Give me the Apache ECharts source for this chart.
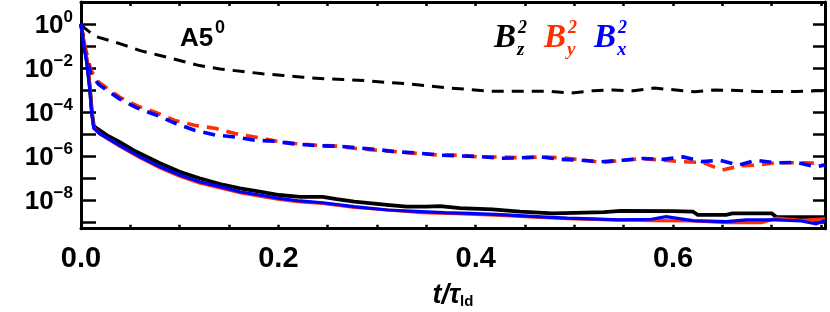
<!DOCTYPE html>
<html><head><meta charset="utf-8">
<script src="https://cdn.jsdelivr.net/npm/echarts@6/dist/echarts.min.js"></script>
<style>html,body{margin:0;padding:0;background:#fff}#c{width:830px;height:312px}</style>
</head><body><div id="c"></div>
<script>
// ---- data ----
const tBzDash = [0.000,0.014,0.040,0.060,0.080,0.100,0.120,0.141,0.164,0.184,0.205,0.225,0.247,0.265,0.289,0.310,0.330,0.350,0.372,0.392,0.414,0.434,0.455,0.475,0.497,0.519,0.539,0.560,0.581,0.603,0.622,0.642,0.665,0.685,0.705,0.725,0.745,0.754];
const bzDash = [0.89,0.28,0.126,0.0617,0.0372,0.0219,0.0129,0.00912,0.00692,0.0055,0.00457,0.0038,0.00324,0.00302,0.00269,0.00219,0.00195,0.00158,0.00126,0.00107,0.000891,0.000871,0.000871,0.000871,0.000724,0.000933,0.001,0.000933,0.00123,0.001,0.000832,0.001,0.000955,0.000851,0.000851,0.000851,0.000933,0.000933];

const tByDash = [0.000,0.004,0.010,0.018,0.039,0.057,0.077,0.095,0.115,0.137,0.156,0.176,0.196,0.217,0.239,0.260,0.279,0.299,0.321,0.341,0.364,0.384,0.404,0.426,0.446,0.466,0.487,0.507,0.527,0.549,0.569,0.590,0.610,0.630,0.650,0.667,0.684,0.704,0.725,0.751];
const byDash = [1.0,0.1,0.00794,0.00229,0.000479,0.000191,9.12e-5,4.17e-5,2.51e-5,1.78e-5,1.05e-5,7.41e-6,4.9e-6,3.72e-6,3.09e-6,2.82e-6,2.19e-6,1.86e-6,1.55e-6,1.32e-6,1.10e-6,1.10e-6,9.12e-7,9.12e-7,8.32e-7,9.12e-7,8.32e-7,6.76e-7,5.13e-7,6.31e-7,7.76e-7,6.46e-7,5.5e-7,5.13e-7,2.29e-7,3.55e-7,3.89e-7,4.9e-7,5.01e-7,4.68e-7];

const tBxDash = [0.000,0.004,0.010,0.018,0.039,0.056,0.077,0.095,0.115,0.137,0.156,0.176,0.196,0.217,0.239,0.260,0.279,0.299,0.321,0.341,0.364,0.384,0.404,0.426,0.446,0.466,0.487,0.507,0.527,0.549,0.569,0.590,0.610,0.630,0.647,0.667,0.684,0.704,0.725,0.745,0.754];
const bxDash = [1.0,0.0631,0.00501,0.00178,0.000398,0.000158,7.08e-5,3.16e-5,1.48e-5,8.91e-6,7.41e-6,5.25e-6,4.68e-6,3.55e-6,2.95e-6,2.82e-6,2.4e-6,2.0e-6,1.55e-6,1.38e-6,1.10e-6,1.02e-6,9.55e-7,7.94e-7,8.32e-7,9.12e-7,7.08e-7,6.46e-7,5.5e-7,6.46e-7,7.76e-7,7.08e-7,9.12e-7,5.62e-7,6.46e-7,3.89e-7,6.46e-7,4.9e-7,5.13e-7,3.24e-7,3.98e-7];

const tBzSolid = [0.000,0.003,0.006,0.009,0.011,0.013,0.026,0.039,0.053,0.066,0.080,0.100,0.120,0.141,0.161,0.181,0.201,0.222,0.245,0.259,0.277,0.310,0.330,0.350,0.364,0.384,0.417,0.445,0.478,0.500,0.530,0.547,0.600,0.620,0.625,0.654,0.660,0.700,0.705,0.754];
const bzSolid = [1.0,0.126,0.02,0.00126,1e-4,2.24e-5,8.91e-6,4.37e-6,1.86e-6,9.55e-7,4.68e-7,1.95e-7,9.77e-8,5.37e-8,3.39e-8,2.4e-8,1.7e-8,1.41e-8,1.41e-8,1.10e-8,8.51e-9,6.03e-9,5.01e-9,5.01e-9,5.37e-9,4.27e-9,3.8e-9,3.02e-9,2.51e-9,2.63e-9,2.82e-9,3.24e-9,3.16e-9,3.02e-9,2.14e-9,2.14e-9,2.51e-9,2.51e-9,1.66e-9,1.66e-9];

const tBySolid = [0.000,0.003,0.006,0.009,0.011,0.013,0.019,0.039,0.060,0.080,0.100,0.120,0.141,0.161,0.181,0.201,0.222,0.245,0.277,0.311,0.345,0.380,0.420,0.460,0.500,0.540,0.580,0.620,0.655,0.690,0.705,0.730,0.754];
const bySolid = [1.0,0.158,0.0251,0.00158,1e-4,2e-5,1e-5,2.82e-6,8.32e-7,2.95e-7,1.2e-7,6.03e-8,3.55e-8,2.19e-8,1.51e-8,1.07e-8,8.32e-9,7.08e-9,4.68e-9,3.55e-9,2.69e-9,2.4e-9,2.09e-9,1.66e-9,1.41e-9,1.26e-9,1.17e-9,1.12e-9,9.55e-10,9.55e-10,1.51e-9,1.2e-9,1.41e-9];

const tBxSolid = [0.000,0.003,0.006,0.009,0.011,0.013,0.019,0.039,0.060,0.080,0.100,0.120,0.141,0.161,0.181,0.201,0.222,0.245,0.277,0.311,0.345,0.368,0.395,0.431,0.462,0.493,0.518,0.545,0.578,0.593,0.620,0.654,0.674,0.705,0.730,0.745,0.754];
const bxSolid = [1.0,0.1,0.0158,0.001,7.94e-5,1.78e-5,1.05e-5,3.09e-6,9.12e-7,3.24e-7,1.38e-7,6.76e-8,4.07e-8,2.4e-8,1.7e-8,1.2e-8,9.12e-9,7.59e-9,5.01e-9,3.55e-9,3.02e-9,2.69e-9,2.51e-9,2.14e-9,1.78e-9,1.51e-9,1.41e-9,1.26e-9,1.35e-9,1.78e-9,1.17e-9,1.05e-9,1.26e-9,1.26e-9,1.12e-9,8.32e-10,1.17e-9];

const yTickExponents = [-9,-8,-7,-6,-5,-4,-3,-2,-1,0];
const yLabelExponents = [-8,-6,-4,-2,0];
const xTickLabels = [0, 0.2, 0.4, 0.6];

// ---- build ----
const FONT = "'Liberation Sans', Arial, sans-serif";
const SERIF = "'Liberation Serif', 'DejaVu Serif', serif";
const RED = '#ff3000', BLUE = '#0000ff', BLACK = '#000000';
const pairs = (t, v) => t.map((x, i) => [x, Math.log10(v[i])]);
const yMin = -9.3, yMax = 1, xMax = 0.754;

function lineSeries(name, t, v, color, dashed, width) {
  return {
    name, type: 'line', data: pairs(t, v), symbol: 'none', showSymbol: false,
    lineStyle: { color, width, type: dashed ? [12, 8] : 'solid', cap: 'butt', join: 'miter' },
    xAxisIndex: 0, yAxisIndex: 0, animation: false, silent: true
  };
}

const chart = echarts.init(document.getElementById('c'), null, { renderer: 'canvas' });
const axisLineStyle = { show: true, onZero: false, lineStyle: { color: BLACK, width: 3 } };
chart.setOption({
  animation: false,
  backgroundColor: '#ffffff',
  grid: { left: 81, right: 5, top: 2, bottom: 83.3, containLabel: false, outerBoundsMode: 'none' },
  xAxis: [
    {
      type: 'value', position: 'bottom', min: 0, max: xMax, interval: 0.05,
      axisLine: axisLineStyle,
      axisTick: { show: true, inside: true, length: 4, lineStyle: { color: BLACK, width: 2.5 } },
      axisLabel: {
        customValues: xTickLabels, formatter: v => v.toFixed(1),
        fontFamily: FONT, fontWeight: 'bold', fontSize: 29, color: BLACK, margin: 16
      },
      splitLine: { show: false },
      name: '{t|t/τ}{s|ld}', nameLocation: 'middle', nameGap: 53,
      nameTextStyle: {
        rich: {
          t: { fontFamily: FONT, fontWeight: 'bold', fontStyle: 'italic', fontSize: 27, color: BLACK, lineHeight: 28, verticalAlign: 'top' },
          s: { fontFamily: FONT, fontWeight: 'bold', fontSize: 15, color: BLACK, lineHeight: 15, verticalAlign: 'bottom' }
        }
      }
    },
    {
      type: 'value', position: 'top', min: 0, max: xMax, interval: 0.05,
      axisLine: axisLineStyle,
      axisTick: { show: true, inside: true, length: 4, lineStyle: { color: BLACK, width: 2.5 } },
      axisLabel: { show: false }, splitLine: { show: false }
    }
  ],
  yAxis: [
    {
      type: 'value', position: 'left', min: yMin, max: yMax,
      axisLine: axisLineStyle,
      axisTick: { show: true, inside: true, length: 15, customValues: yTickExponents, lineStyle: { color: BLACK, width: 2.5 } },
      axisLabel: {
        customValues: yLabelExponents, margin: 8,
        formatter: v => { const n = Math.round(v); return '{b|10}{s|' + (n === 0 ? '0' : '\u2212' + Math.abs(n)) + '}'; },
        rich: {
          b: { fontFamily: FONT, fontWeight: 'bold', fontSize: 26, color: BLACK, lineHeight: 30, verticalAlign: 'bottom' },
          s: { fontFamily: FONT, fontWeight: 'bold', fontSize: 17, color: BLACK, lineHeight: 16, verticalAlign: 'top' }
        }
      },
      splitLine: { show: false }
    },
    {
      type: 'value', position: 'right', min: yMin, max: yMax,
      axisLine: axisLineStyle,
      axisTick: { show: true, inside: true, length: 12, customValues: yTickExponents, lineStyle: { color: BLACK, width: 2.5 } },
      axisLabel: { show: false }, splitLine: { show: false }
    }
  ],
  series: [
    lineSeries('B_z^2 (dashed)', tBzDash, bzDash, BLACK, true, 3),
    lineSeries('B_y^2 (dashed)', tByDash, byDash, RED, true, 3.6),
    lineSeries('B_x^2 (dashed)', tBxDash, bxDash, BLUE, true, 3.6),
    lineSeries('B_z^2', tBzSolid, bzSolid, BLACK, false, 3.8),
    lineSeries('B_y^2', tBySolid, bySolid, RED, false, 3.2),
    lineSeries('B_x^2', tBxSolid, bxSolid, BLUE, false, 3.2)
  ],
  graphic: [
    { type: 'text', left: 180, top: 26, style: { text: 'A5', font: "bold 26px " + FONT, fill: BLACK } },
    { type: 'text', left: 215, top: 19, style: { text: '0', font: "bold 18px " + FONT, fill: BLACK } },
    // legend: B with stacked super/subscripts
    { type: 'text', left: 494, top: 22, style: { text: 'B', font: "italic bold 33px " + SERIF, fill: BLACK } },
    { type: 'text', left: 518, top: 19, style: { text: '2', font: "italic bold 18px " + SERIF, fill: BLACK } },
    { type: 'text', left: 517, top: 41, style: { text: 'z', font: "italic bold 19px " + SERIF, fill: BLACK } },
    { type: 'text', left: 544, top: 22, style: { text: 'B', font: "italic bold 33px " + SERIF, fill: RED } },
    { type: 'text', left: 568, top: 19, style: { text: '2', font: "italic bold 18px " + SERIF, fill: RED } },
    { type: 'text', left: 567, top: 41, style: { text: 'y', font: "italic bold 19px " + SERIF, fill: RED } },
    { type: 'text', left: 594, top: 22, style: { text: 'B', font: "italic bold 33px " + SERIF, fill: BLUE } },
    { type: 'text', left: 618, top: 19, style: { text: '2', font: "italic bold 18px " + SERIF, fill: BLUE } },
    { type: 'text', left: 617, top: 41, style: { text: 'x', font: "italic bold 19px " + SERIF, fill: BLUE } }
  ]
});
</script>
</body></html>
